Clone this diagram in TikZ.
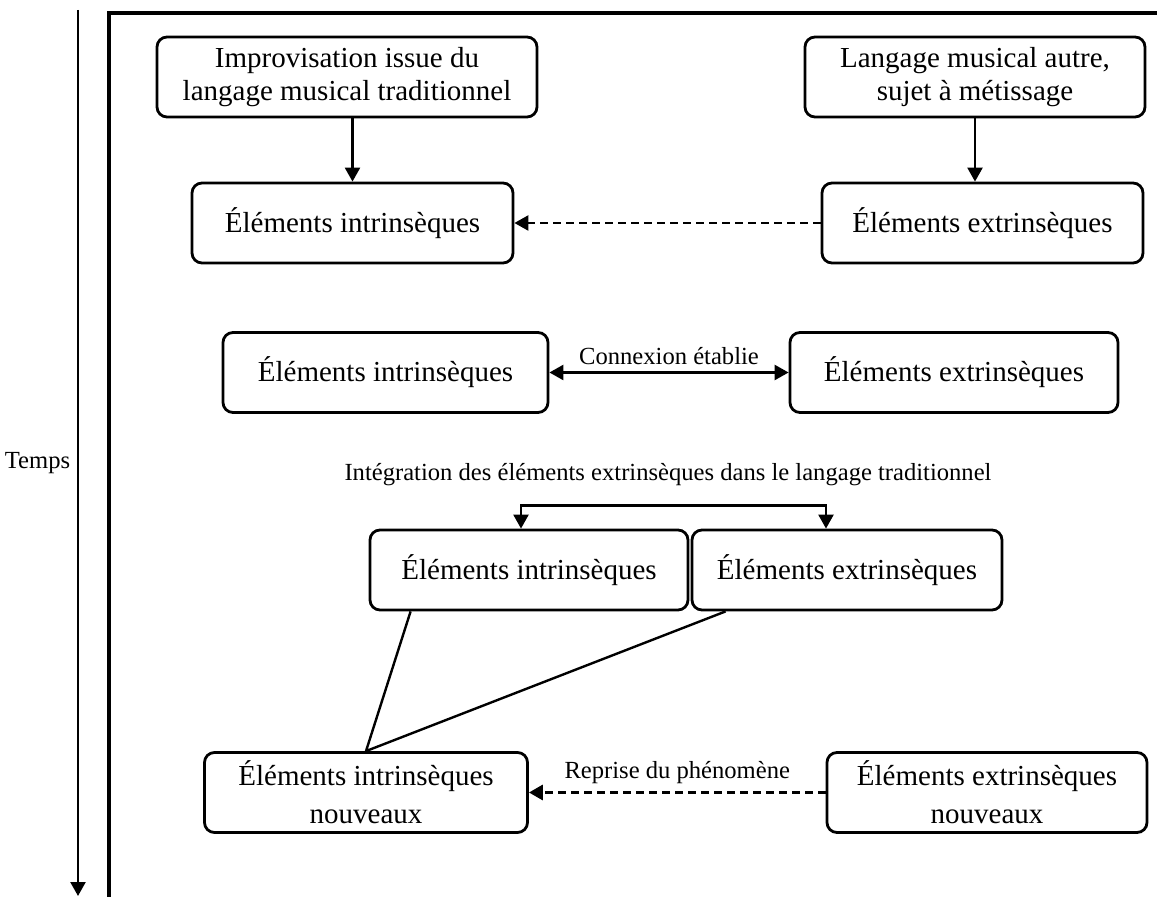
\documentclass[tikz,border=0pt]{standalone}
\usepackage{fontspec}
\setmainfont{Liberation Serif}
\usetikzlibrary{arrows.meta}
\tikzset{
  bloc/.style={draw,line width=1.4pt,rounded corners=5pt,align=center,minimum height=40pt,
    font=\fontsize{14.5}{16.5}\selectfont},
  petit/.style={font=\fontsize{12.3}{14}\selectfont},
  fl/.style={line width=1.2pt,-{Triangle[length=7pt,width=7.5pt]}},
  dfl/.style={line width=1.2pt,{Triangle[length=7pt,width=7.5pt]}-{Triangle[length=7pt,width=7.5pt]}},
  tirets/.style={dash pattern=on 4pt off 2.5pt}
}
\begin{document}
\begin{tikzpicture}[x=0.5pt,y=-0.5pt]
\useasboundingbox (0,0) rectangle (1157,897);
\pgfmathsetmacro{\yA}{77}
\pgfmathsetmacro{\yB}{223}
\pgfmathsetmacro{\yC}{372.5}
\pgfmathsetmacro{\yD}{570}
\pgfmathsetmacro{\yE}{792.5}
% axe du temps et cadre
\draw[fl](78,10)coordinate(t0)--(78,896)coordinate(t1)node[pos=0.511,left,petit](temps){Temps};
\draw[line width=1.6pt](109,897)coordinate(c0)--(109,13)--(1157,13)coordinate(c1);
% boites
\node[bloc,minimum width=190pt](imp) at (347,\yA){Improvisation issue du\\langage musical traditionnel};
\node[bloc,minimum width=170pt](autre) at (975,\yA){Langage musical autre,\\sujet à métissage};
\node[bloc,minimum width=160.5pt](intA) at (352.5,\yB){Éléments intrinsèques};
\node[bloc,minimum width=160.5pt](extA) at (982.5,\yB){Éléments extrinsèques};
\node[bloc,minimum width=162.5pt](intB) at (385.5,\yC){Éléments intrinsèques};
\node[bloc,minimum width=164pt](extB) at (954,\yC){Éléments extrinsèques};
\node[petit](integ) at (668,475){Intégration des éléments extrinsèques dans le langage traditionnel};
\node[bloc,minimum width=159pt](intC) at (529,\yD){Éléments intrinsèques};
\node[bloc,minimum width=155pt](extC) at (847,\yD){Éléments extrinsèques};
\node[bloc,minimum width=161.5pt](intD) at (366,\yE){Éléments intrinsèques\\[2.5pt]nouveaux};
\node[bloc,minimum width=160pt](extD) at (987,\yE){Éléments extrinsèques\\[2.5pt]nouveaux};
% liaisons
\draw[fl](intA.north|-imp.south)--(intA.north);
\draw[fl](autre.south)--(autre.south|-extA.north);
\draw[fl,tirets](extA)--(intA);
\draw[dfl](intB)--(extB)node[midway,above,petit](cnx){Connexion établie};
\draw[dfl]([xshift=-4pt]intC.north)|-([yshift=11.5pt]intC.north)-|([xshift=-10.5pt]extC.north);
\draw[line width=1.2pt]([xshift=21pt]intC.south west)--(intD.north)--([xshift=17.5pt]extC.south west);
\draw[fl,tirets,line width=1.6pt](extD)--(intD)node[midway,above,petit](rep){Reprise du phénomène};
\end{tikzpicture}
\end{document}
